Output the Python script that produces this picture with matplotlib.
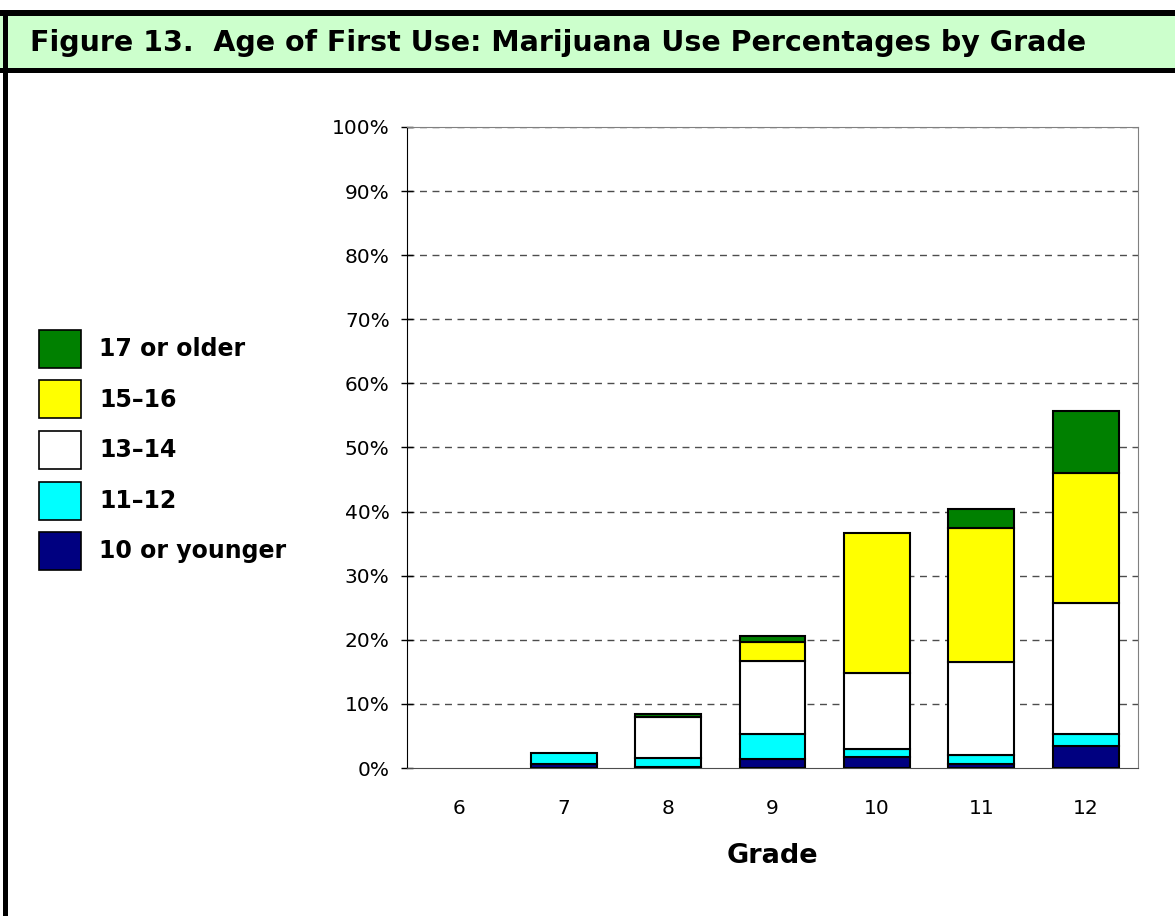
import numpy as np
import matplotlib
matplotlib.use("Agg")
import matplotlib.pyplot as plt
from matplotlib.patches import Rectangle, Patch

# data (percent of students, by age of first use)
grades = ["6", "7", "8", "9", "10", "11", "12"]
age_groups = ["10 or younger", "11\u201312", "13\u201314", "15\u201316", "17 or older"]
age10_under = [0.0, 0.6, 0.1, 1.45, 1.7, 0.7, 3.5]
age11_12 = [0.0, 1.7, 1.45, 3.8, 1.2, 1.4, 1.75]
age13_14 = [0.0, 0.0, 6.45, 11.45, 11.9, 14.4, 20.45]
age15_16 = [0.0, 0.0, 0.0, 3.0, 21.8, 20.9, 20.3]
age17_over = [0.0, 0.0, 0.5, 0.9, 0.0, 3.0, 9.7]
colors = ["#000080", "#00FFFF", "#FFFFFF", "#FFFF00", "#008000"]

series = [age10_under, age11_12, age13_14, age15_16, age17_over]

fig = plt.figure(figsize=(11.75, 9.16), dpi=100)
W, H = 1175, 916

# frame + title band
fig.add_artist(Rectangle((0, 1 - 70 / H), 1, 57 / H, transform=fig.transFigure,
                         facecolor="#CCFFCC", edgecolor="none", zorder=0))
fig.add_artist(Rectangle((0, 1 - 16 / H), 1, 6 / H, transform=fig.transFigure,
                         facecolor="black", edgecolor="none"))
fig.add_artist(Rectangle((0, 1 - 73 / H), 1, 5 / H, transform=fig.transFigure,
                         facecolor="black", edgecolor="none"))
fig.add_artist(Rectangle((3 / W, 0), 5 / W, 1 - 10 / H, transform=fig.transFigure,
                         facecolor="black", edgecolor="none"))
fig.text(30 / W, 1 - 43 / H, "Figure 13.  Age of First Use: Marijuana Use Percentages by Grade",
         fontsize=20.5, fontweight="bold", va="center", ha="left")

ax = fig.add_axes([407 / W, 1 - 768 / H, 731 / W, 641 / H])
x = np.arange(len(grades))
bottom = np.zeros(len(grades))
for vals, c, lab in zip(series, colors, age_groups):
    vals = np.array(vals)
    lw = [1.5 if v > 0 else 0 for v in vals]
    ax.bar(x, vals, 0.63, bottom=bottom, color=c, edgecolor="black",
           linewidth=lw, label=lab, zorder=3)
    bottom += vals

ax.set_xlim(-0.5, len(grades) - 0.5)
ax.set_ylim(0, 100)
ax.set_yticks(np.arange(0, 101, 10))
ax.set_yticklabels([f"{v}%" for v in range(0, 101, 10)])
ax.set_xticks(x)
ax.set_xticklabels(grades)
ax.tick_params(axis="y", direction="inout", length=9, width=1, pad=8, labelsize=14.5)
ax.tick_params(axis="x", length=0, pad=22, labelsize=14.5)
for v in range(10, 101, 10):
    ax.axhline(v, color="0.3", linestyle=(0, (5, 4)), linewidth=1, zorder=1)
ax.spines["top"].set_color("0.5")
ax.spines["right"].set_color("0.5")
ax.spines["left"].set_color("black")
ax.spines["bottom"].set_color("0.3")
ax.set_xlabel("Grade", fontsize=19.5, fontweight="bold", labelpad=18)

handles = [Patch(facecolor=c, edgecolor="black", linewidth=1.2) for c in colors[::-1]]
fig.legend(handles, age_groups[::-1], loc="center left",
           bbox_to_anchor=(18 / W, 1 - 450 / H), frameon=False,
           prop={"size": 17, "weight": "bold"}, handlelength=1.78, handleheight=2.1,
           labelspacing=0.53, handletextpad=0.75)

fig.savefig("out.png", dpi=100)
